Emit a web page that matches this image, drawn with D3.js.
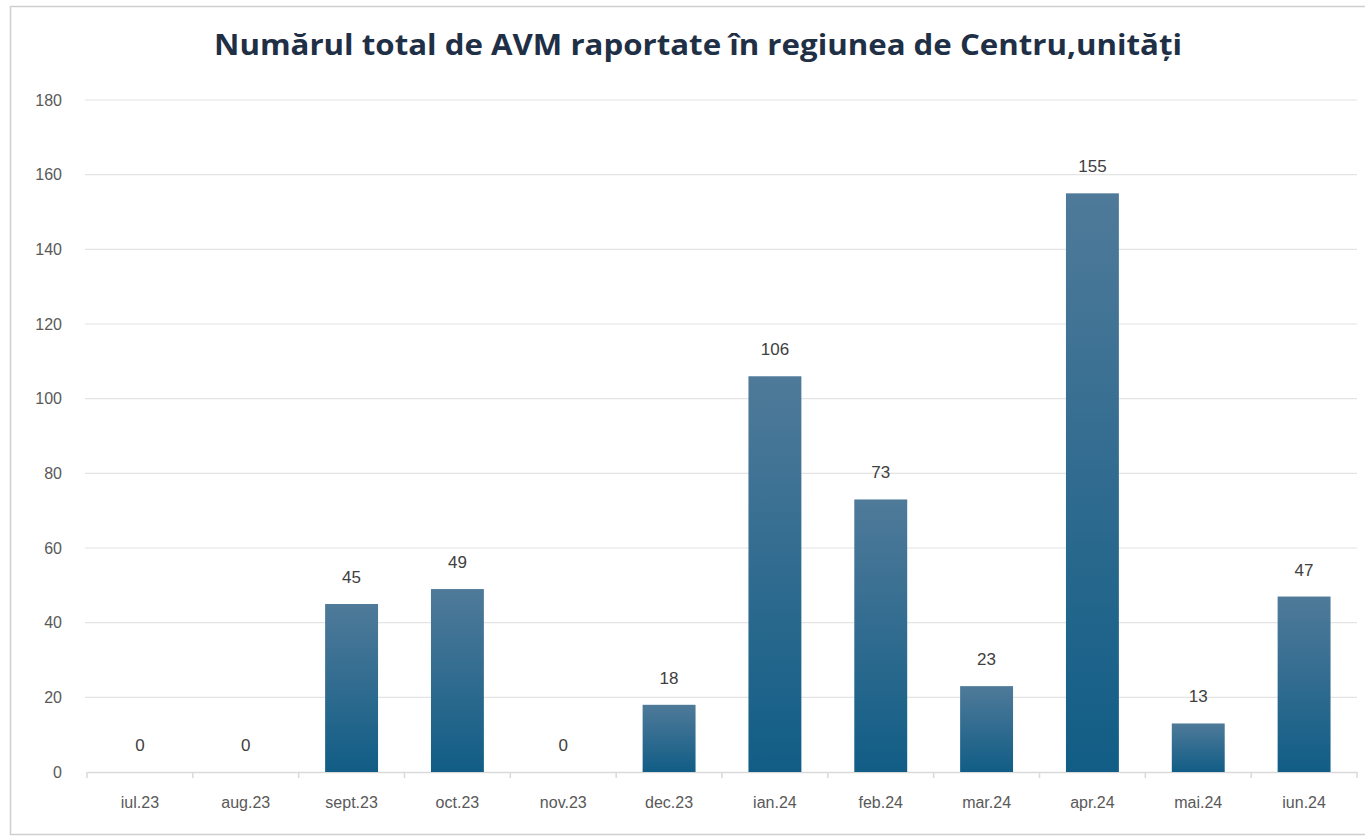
<!DOCTYPE html>
<html>
<head>
<meta charset="utf-8">
<script src="https://cdn.jsdelivr.net/npm/d3@7"></script>
<style>
  body { margin: 0; background: #fff; }
  svg { display: block; }
</style>
</head>
<body>
<div id="chart"></div>
<script>
// data
var months = ["iul.23", "aug.23", "sept.23", "oct.23", "nov.23", "dec.23",
              "ian.24", "feb.24", "mar.24", "apr.24", "mai.24", "iun.24"];
var counts = [0, 0, 45, 49, 0, 18, 106, 73, 23, 155, 13, 47];
var yTicks = [0, 20, 40, 60, 80, 100, 120, 140, 160, 180];
var title = "Numărul total de AVM raportate în regiunea de Centru,unități";

var W = 1365, H = 838;
var margin = { top: 100, right: 8, bottom: 66, left: 87 },
    width = W - margin.left - margin.right,
    height = H - margin.top - margin.bottom;

var root = d3.select("#chart").append("svg")
    .attr("width", W)
    .attr("height", H);

// frame round the chart
root.append("rect")
    .attr("x", 10.5).attr("y", 6.5)
    .attr("width", W - 6).attr("height", 828)
    .attr("fill", "#fff")
    .attr("stroke", "#cfcfcf")
    .attr("stroke-width", 1.5);

// bar gradient, lighter at the top
var grad = root.append("defs").append("linearGradient")
    .attr("id", "barGrad")
    .attr("x1", 0).attr("y1", 0).attr("x2", 0).attr("y2", 1);
grad.append("stop").attr("offset", "0%").attr("stop-color", "#4f7a99");
grad.append("stop").attr("offset", "100%").attr("stop-color", "#115d86");

root.append("text")
    .attr("x", 698).attr("y", 55)
    .attr("text-anchor", "middle")
    .attr("textLength", 968)
    .attr("lengthAdjust", "spacingAndGlyphs")
    .style("font-family", "'Open Sans', Lato, sans-serif")
    .style("font-weight", 700)
    .style("font-size", "28px")
    .style("fill", "#1f3046")
    .text(title);

var svg = root.append("g")
    .attr("transform", "translate(" + margin.left + "," + margin.top + ")");

var x = d3.scaleBand().domain(months).range([0, width]).paddingInner(0.5).paddingOuter(0.25);
var y = d3.scaleLinear().domain([0, 180]).range([height, 0]);

// gridlines
svg.append("g")
    .selectAll("line")
    .data(yTicks.slice(1))
    .enter().append("line")
    .attr("x1", -2).attr("x2", width)
    .attr("y1", d => y(d)).attr("y2", d => y(d))
    .attr("stroke", "#e4e4e4")
    .attr("stroke-width", 1.2);

// y axis labels
var yAxis = d3.axisLeft(y).tickValues(yTicks).tickSize(0).tickPadding(25);
var gy = svg.append("g").call(yAxis);
gy.select(".domain").remove();
gy.selectAll("text")
    .style("font-family", "'Liberation Sans', Arial, sans-serif")
    .style("font-size", "16px")
    .style("fill", "#595959");

// x axis with little separators between categories
var xAxis = d3.axisBottom(x).tickSize(0).tickPadding(25);
var gx = svg.append("g")
    .attr("transform", "translate(0," + height + ")")
    .call(xAxis);
gx.select(".domain").attr("stroke", "#d9d9d9").attr("stroke-width", 1.5);
gx.selectAll("text")
    .style("font-family", "'Liberation Sans', Arial, sans-serif")
    .style("font-size", "16px")
    .style("fill", "#595959");
gx.selectAll(".sep")
    .data(d3.range(months.length + 1))
    .enter().append("line")
    .attr("class", "sep")
    .attr("x1", i => x.step() * i)
    .attr("x2", i => x.step() * i)
    .attr("y1", 0).attr("y2", 6)
    .attr("stroke", "#d9d9d9")
    .attr("stroke-width", 1.5);

// bars
svg.selectAll(".bar")
    .data(counts)
    .enter().append("rect")
    .attr("class", "bar")
    .attr("x", (d, i) => x(months[i]))
    .attr("y", d => y(d))
    .attr("width", x.bandwidth())
    .attr("height", d => height - y(d))
    .attr("fill", "url(#barGrad)");

// value labels
svg.selectAll(".lbl")
    .data(counts)
    .enter().append("text")
    .attr("class", "lbl")
    .attr("x", (d, i) => x(months[i]) + x.bandwidth() / 2)
    .attr("y", d => y(d) - 21)
    .attr("text-anchor", "middle")
    .style("font-family", "'Liberation Sans', Arial, sans-serif")
    .style("font-size", "17px")
    .style("fill", "#404040")
    .text(d => d);
</script>
</body>
</html>
